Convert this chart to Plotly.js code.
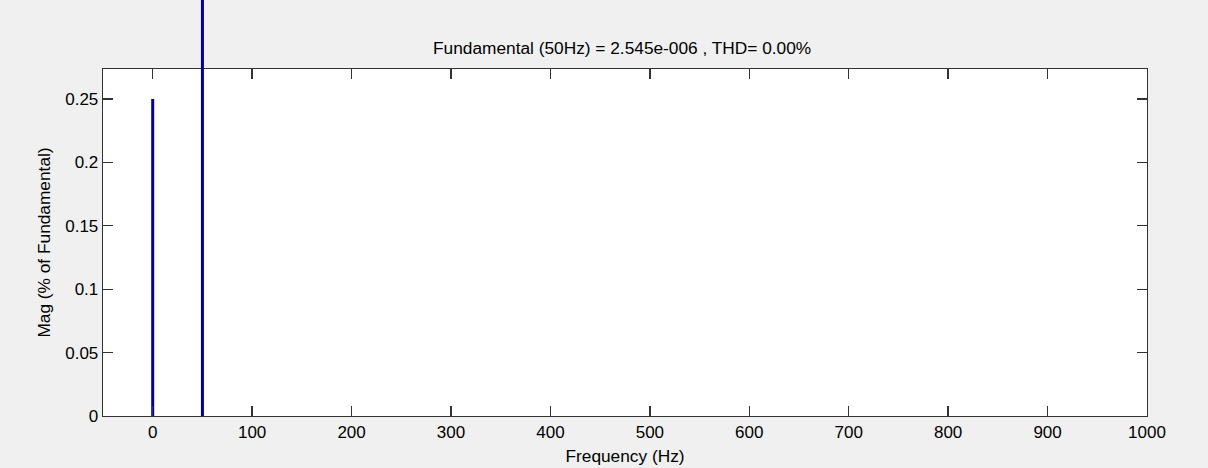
<!DOCTYPE html>
<html>
<head>
<meta charset="utf-8">
<script src="https://cdn.plot.ly/plotly-3.0.1.min.js"></script>
<style>
html,body{margin:0;padding:0;background:#f0f0f0;}
#chart{width:1208px;height:468px;}
</style>
</head>
<body>
<div id="chart"></div>
<script>
// Harmonic spectrum data
const freqHz = [0, 50];
const magPct = [0.25, 100];
const xTicks = [0, 100, 200, 300, 400, 500, 600, 700, 800, 900, 1000];
const yTicks = [0, 0.05, 0.1, 0.15, 0.2, 0.25];
const yTickText = ['0', '0.05', '0.1', '0.15', '0.2', '0.25'];
const titleText = 'Fundamental (50Hz) = 2.545e-006 , THD= 0.00%';

const barColor = '#00009c';
const font = {family: 'Liberation Sans, Arial, sans-serif', size: 17, color: '#000'};
const titleFont = {family: 'Liberation Sans, Arial, sans-serif', size: 17.3, color: '#000'};

// stem lines from 0 to value for each frequency
const xs = [], ys = [];
freqHz.forEach((f, i) => { xs.push(f, f, null); ys.push(0, magPct[i], null); });

const traces = [{
  type: 'scatter', mode: 'lines', x: xs, y: ys,
  line: {color: barColor, width: 3}, hoverinfo: 'skip', showlegend: false
}];

// part of the fundamental's stem above the axes box (goes off the top of the figure)
const shapes = [{
  type: 'line', xref: 'x', yref: 'paper',
  x0: freqHz[1], x1: freqHz[1], y0: 1, y1: 2,
  line: {color: barColor, width: 3}, layer: 'above'
}];

const axisCommon = {
  showgrid: false, zeroline: false, showline: true, mirror: 'ticks',
  linecolor: '#333', linewidth: 1.3, ticks: 'inside', ticklen: 10, tickwidth: 1.3,
  tickcolor: '#333', tickfont: font
};

const layout = {
  width: 1208, height: 468,
  paper_bgcolor: '#f0f0f0', plot_bgcolor: '#ffffff',
  margin: {l: 103, r: 61, t: 69, b: 52},
  font: font,
  title: {text: titleText, font: titleFont, x: 0.515, xanchor: 'center', y: 0.898, yanchor: 'middle', yref: 'container'},
  xaxis: Object.assign({}, axisCommon, {
    range: [-50, 1000], tickvals: xTicks,
    title: {text: 'Frequency (Hz)', font: titleFont, standoff: 9}
  }),
  yaxis: Object.assign({}, axisCommon, {
    range: [0, 0.2737], tickvals: yTicks, ticktext: yTickText,
    title: {text: 'Mag (% of Fundamental)', font: titleFont, standoff: 10}
  }),
  shapes: shapes
};

Plotly.newPlot('chart', traces, layout, {displayModeBar: false, staticPlot: true});
</script>
</body>
</html>
